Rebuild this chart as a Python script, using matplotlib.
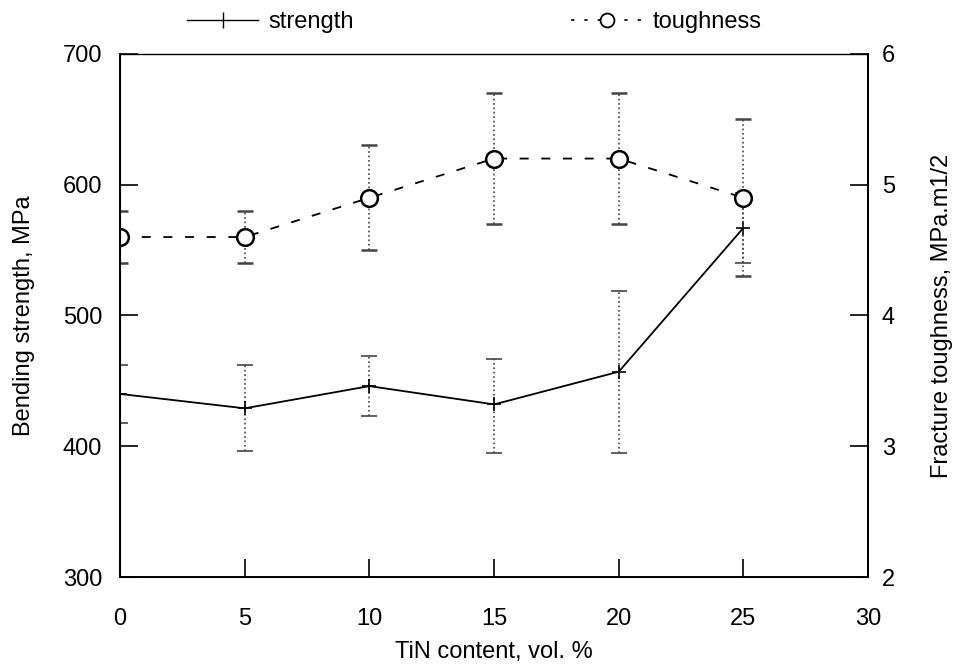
import matplotlib.pyplot as plt

plt.rcParams['font.family'] = ['Liberation Sans', 'DejaVu Sans']

# TiN content (vol. %)
tin = [0, 5, 10, 15, 20, 25]

# bending strength, MPa, with error bar limits
strength = [440, 429, 446, 432, 457, 567]
strength_hi = [462, 462, 469, 467, 519, 594]
strength_lo = [418, 396, 423, 395, 395, 540]

# fracture toughness, MPa.m1/2, with error bar limits
toughness = [4.6, 4.6, 4.9, 5.2, 5.2, 4.9]
toughness_hi = [4.8, 4.8, 5.3, 5.7, 5.7, 5.5]
toughness_lo = [4.4, 4.4, 4.5, 4.7, 4.7, 4.3]

fig = plt.figure(figsize=(9.55, 6.66), dpi=100)
ax = fig.add_axes([0.1257, 0.1336, 0.7833, 0.7854])
ax2 = ax.twinx()

s_err = [[s - lo for s, lo in zip(strength, strength_lo)],
         [hi - s for s, hi in zip(strength, strength_hi)]]
t_err = [[t - lo for t, lo in zip(toughness, toughness_lo)],
         [hi - t for t, hi in zip(toughness, toughness_hi)]]

eb1 = ax.errorbar(tin, strength, yerr=s_err, color='black', lw=1.3,
                  marker='+', ms=10, mew=1.2, ecolor='#444444',
                  elinewidth=1.2, capsize=5.5, capthick=0.9)
for b in eb1[2]:
    b.set_linestyle(':')

eb2 = ax2.errorbar(tin, toughness, yerr=t_err, color='black', lw=1.3,
                   ls=(0, (5, 7)), marker='o', ms=12, mfc='white',
                   mew=1.8, ecolor='#444444', elinewidth=1.2,
                   capsize=5.5, capthick=0.9)
for b in eb2[2]:
    b.set_linestyle(':')

ax.set_xlim(0, 30)
ax.set_ylim(300, 700)
ax2.set_ylim(2, 6)
ax.set_xticks([0, 5, 10, 15, 20, 25, 30])
ax.set_yticks([300, 400, 500, 600, 700])
ax2.set_yticks([2, 3, 4, 5, 6])

ax.tick_params(direction='in', length=13, width=1.2, labelsize=17)
ax.tick_params(axis='x', top=False, pad=22)
ax.tick_params(axis='y', pad=13)
ax2.tick_params(direction='in', length=13, width=1.2, labelsize=17, pad=10)
for sp in ax.spines.values():
    sp.set_linewidth(1.4)
ax.spines['top'].set_linewidth(1.0)
ax.spines['top'].set_color('#444444')
ax2.spines['right'].set_linewidth(1.4)

ax.set_xlabel('TiN content, vol. %', fontsize=17, labelpad=8)
ax.set_ylabel('Bending strength, MPa', fontsize=17, labelpad=20)
ax2.set_ylabel('Fracture toughness, MPa.m1/2', fontsize=17, labelpad=26)

h1 = plt.Line2D([], [], color='black', lw=1.0, marker='|', ms=12)
h2 = plt.Line2D([], [], color='black', lw=1.2, ls=(0, (2, 6)),
                marker='o', ms=10, mfc='white', mew=1.3)
fig.legend([h1, h2], ['strength', 'toughness'], loc='upper center',
           bbox_to_anchor=(0.497, 1.015), ncol=2, frameon=False, fontsize=17,
           handlelength=3.0, handletextpad=0.45, columnspacing=9.2)

fig.savefig('out.png', dpi=100)
